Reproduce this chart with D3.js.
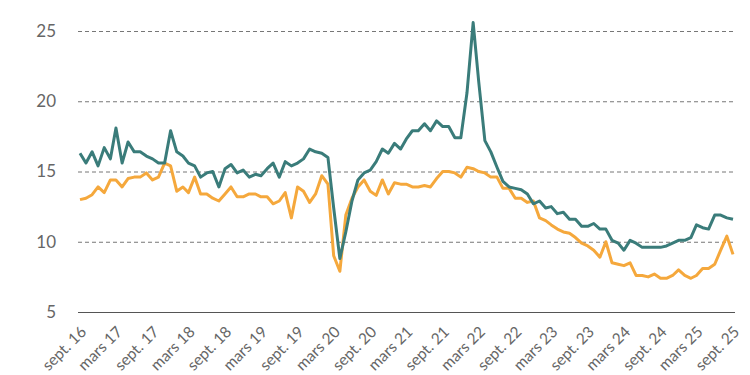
<!DOCTYPE html>
<html>
<head>
<meta charset="utf-8">
<script src="https://cdn.jsdelivr.net/npm/d3@7"></script>
<style>
  body { margin: 0; background: #fff; }
</style>
</head>
<body>
<svg width="750" height="375"></svg>
<script>
// monthly, sept. 2016 -> sept. 2025
const startMonth = new Date(2016, 8, 1)

const tealValues = [
  16.3, 15.6, 16.4, 15.4, 16.7, 15.9, 18.1, 15.6, 17.1, 16.4, 16.4, 16.1, 15.9, 15.6, 15.6, 17.9,
  16.4, 16.1, 15.6, 15.4, 14.6, 14.9, 15.0, 13.9, 15.2, 15.5, 14.9, 15.1, 14.6, 14.8, 14.7, 15.2,
  15.6, 14.6, 15.7, 15.4, 15.6, 15.9, 16.6, 16.4, 16.3, 16.0, 12.4, 8.8, 10.7, 12.9, 14.4, 14.9,
  15.1, 15.7, 16.6, 16.3, 17.0, 16.6, 17.3, 17.9, 17.9, 18.4, 17.9, 18.6, 18.2, 18.2, 17.4, 17.4,
  20.6, 25.6, 21.4, 17.2, 16.4, 15.3, 14.3, 13.9, 13.8, 13.7, 13.4, 12.7, 12.9, 12.4, 12.5, 12.0,
  12.1, 11.6, 11.6, 11.1, 11.1, 11.3, 10.9, 10.9, 10.1, 9.9, 9.4, 10.1, 9.9, 9.6, 9.6, 9.6,
  9.6, 9.7, 9.9, 10.1, 10.1, 10.3, 11.2, 11.0, 10.9, 11.9, 11.9, 11.7, 11.6
]

const orangeValues = [
  13.0, 13.1, 13.35, 13.9, 13.5, 14.4, 14.4, 13.9, 14.5, 14.6, 14.6, 14.9, 14.4, 14.6, 15.6, 15.4,
  13.6, 13.9, 13.5, 14.6, 13.4, 13.4, 13.1, 12.9, 13.4, 13.9, 13.2, 13.2, 13.4, 13.4, 13.2, 13.2,
  12.7, 12.9, 13.5, 11.7, 13.9, 13.6, 12.8, 13.4, 14.7, 14.1, 9.0, 7.9, 11.9, 13.1, 13.9, 14.4,
  13.6, 13.3, 14.4, 13.4, 14.2, 14.1, 14.1, 13.9, 13.9, 14.0, 13.9, 14.5, 15.0, 15.0, 14.9, 14.6,
  15.3, 15.2, 15.0, 14.9, 14.6, 14.6, 13.8, 13.8, 13.1, 13.1, 12.8, 12.9, 11.7, 11.5, 11.2, 10.9,
  10.7, 10.6, 10.3, 9.9, 9.7, 9.4, 8.9, 10.0, 8.5, 8.4, 8.3, 8.5, 7.6, 7.6, 7.5, 7.7,
  7.4, 7.4, 7.6, 8.0, 7.6, 7.4, 7.6, 8.1, 8.1, 8.4, 9.4, 10.4, 9.1
]

const yTicks = [5, 10, 15, 20, 25]
const xTickLabels = [
  'sept. 16', 'mars 17', 'sept. 17', 'mars 18', 'sept. 18', 'mars 19', 'sept. 19', 'mars 20',
  'sept. 20', 'mars 21', 'sept. 21', 'mars 22', 'sept. 22', 'mars 23', 'sept. 23', 'mars 24',
  'sept. 24', 'mars 25', 'sept. 25'
]

const monthOf = function (i) {
  return d3.timeMonth.offset(startMonth, i)
}

const svg = d3.select('svg')
const margin = { left: 78, right: 735, top: 31, bottom: 312 }
const fontFamily = 'Lato, sans-serif'

const x = d3.scaleTime()
  .domain([startMonth, monthOf(tealValues.length - 1)])
  .range([80, 733])

const y = d3.scaleLinear()
  .domain([5, 25])
  .range([margin.bottom, margin.top])

// y axis + dashed grid
const yAxis = svg.append('g')
  .attr('transform', 'translate(' + margin.left + ',0)')
  .call(d3.axisLeft(y).tickValues(yTicks).tickSize(-(margin.right - margin.left)).tickPadding(22))
  .attr('font-family', fontFamily)

yAxis.select('.domain').remove()
yAxis.selectAll('line')
  .attr('stroke-width', 1)
  .attr('stroke-dasharray', function (d) { return d === 5 ? null : '4,3' })
  .attr('stroke', function (d) { return d === 5 ? '#555' : '#777' })
yAxis.selectAll('text')
  .attr('fill', '#666')
  .style('font-size', '17px')

// x axis, rotated labels every 6 months
const xTicks = xTickLabels.map(function (d, i) { return monthOf(i * 6) })

const xAxis = svg.append('g')
  .attr('transform', 'translate(0,' + margin.bottom + ')')
  .call(d3.axisBottom(x).tickValues(xTicks).tickSize(0).tickFormat(function (d, i) { return xTickLabels[i] }))
  .attr('font-family', fontFamily)

xAxis.select('.domain').remove()
xAxis.selectAll('text')
  .attr('fill', '#666')
  .style('font-size', '15.5px')
  .attr('text-anchor', 'end')
  .attr('dy', '0.35em')
  .attr('y', 0)
  .attr('transform', 'translate(3,17) rotate(-45)')

const line = d3.line()
  .x(function (d, i) { return x(monthOf(i)) })
  .y(function (d) { return y(d) })

svg.append('path')
  .datum(orangeValues)
  .attr('d', line)
  .attr('fill', 'none')
  .attr('stroke', '#f5a83c')
  .attr('stroke-width', 3)
  .attr('stroke-linejoin', 'round')

svg.append('path')
  .datum(tealValues)
  .attr('d', line)
  .attr('fill', 'none')
  .attr('stroke', '#3a7c7a')
  .attr('stroke-width', 3)
  .attr('stroke-linejoin', 'round')
</script>
</body>
</html>
